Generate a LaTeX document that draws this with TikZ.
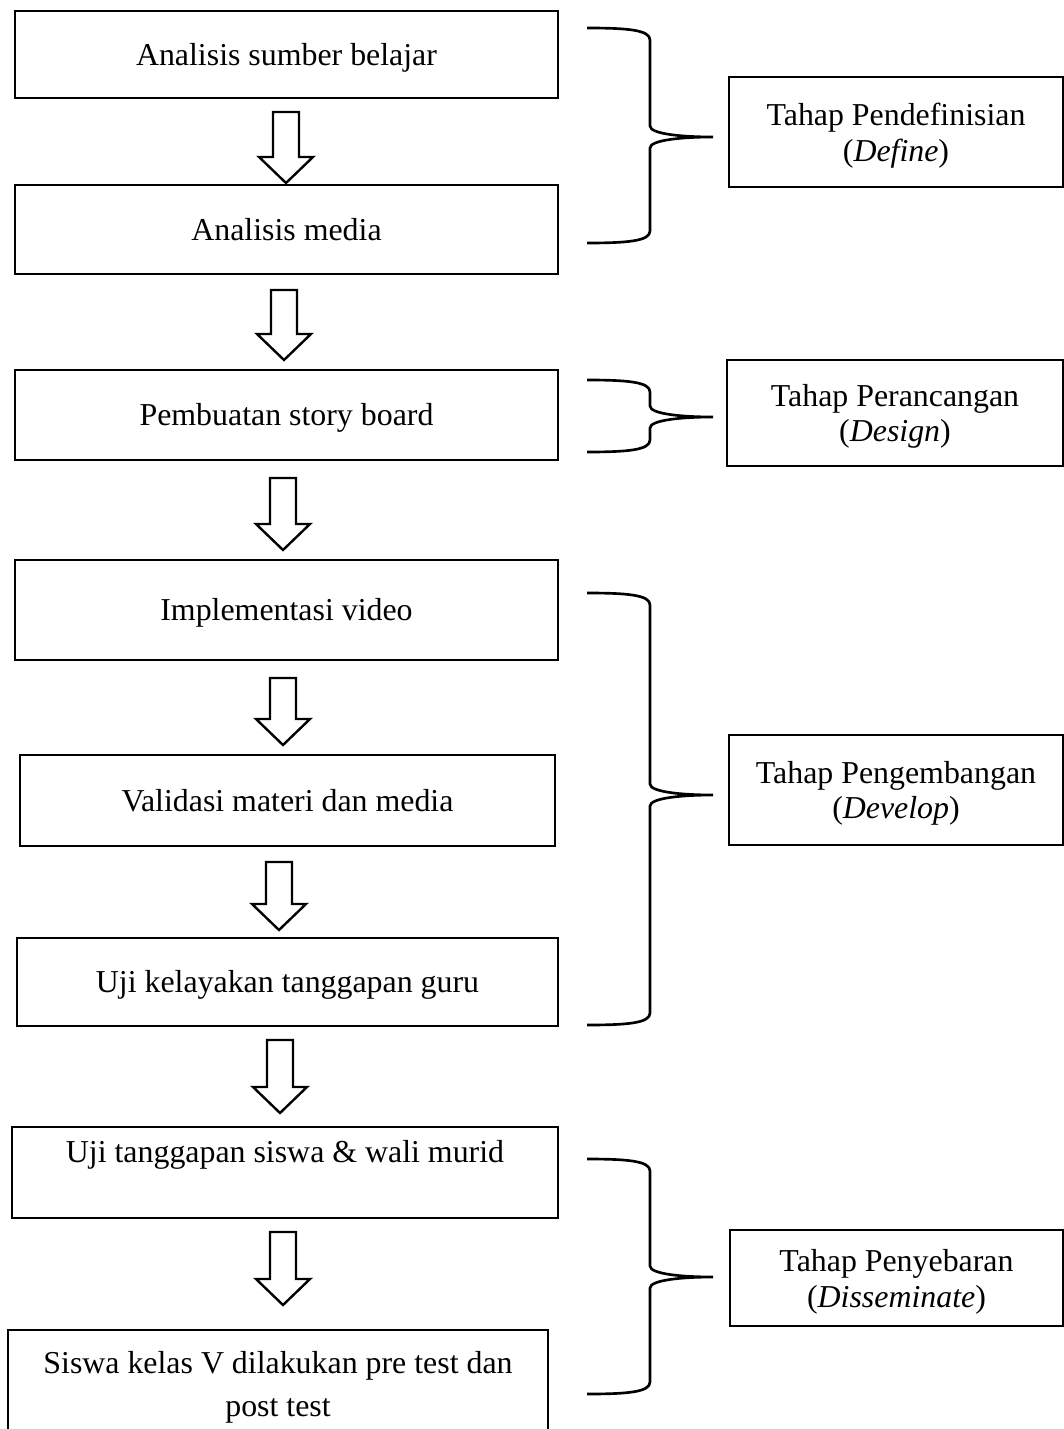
\documentclass[tikz,border=0pt]{standalone}
\usepackage{fontspec}
\setmainfont{Liberation Serif}
\usepackage{tikz}

\newcommand{\pxl}{0.3765pt}

\tikzset{
	stepbox/.style={draw, line width=1pt, minimum width=543*\pxl, inner sep=0pt,
		text height=8.3pt, text depth=0.3pt,
		font=\fontsize{12}{13.5}\selectfont, align=center},
	phasebox/.style={draw, line width=1pt, minimum width=334*\pxl, inner sep=0pt,
		text depth=0pt,
		font=\fontsize{12}{13.5}\selectfont, align=center},
	blockarrow/.style={draw, line width=0.9pt, fill=white, line join=miter},
	bracket/.style={draw, line width=1pt}
}

% brace: top, tip, bottom
\newcommand{\phasebrace}[3]{%
	\draw[bracket] (587,#1) .. controls (628,#1) and (650,#1+2) .. (650,#1+12)
		-- (650,#2-11) .. controls (650,#2-3) and (682,#2) .. (713,#2)
		.. controls (682,#2) and (650,#2+3) .. (650,#2+11)
		-- (650,#3-12) .. controls (650,#3-2) and (628,#3) .. (587,#3);
}

\begin{document}
\begin{tikzpicture}[x=0.3765pt, y=-0.3765pt]
		\useasboundingbox (0,0) rectangle (1064,1429);

		% langkah
		\node[stepbox, minimum height=87*\pxl] (sumber) at (286.5, 54.5) {Analisis sumber belajar};
		\node[stepbox, minimum height=89*\pxl] (media) at (286.5, 229.5) {Analisis media};
		\node[stepbox, minimum height=90*\pxl] (story) at (286.5, 415) {Pembuatan story board};
		\node[stepbox, minimum height=100*\pxl] (video) at (286.5, 610) {Implementasi video};
		\node[stepbox, minimum width=535*\pxl, minimum height=91*\pxl] (validasi) at (287.5, 800.5) {Validasi materi dan media};
		\node[stepbox, minimum width=541*\pxl, minimum height=88*\pxl] (guru) at (287.5, 982) {Uji kelayakan tanggapan guru};
		\node[stepbox, minimum width=546*\pxl, minimum height=91*\pxl, text depth=15.6pt] (siswa) at (285, 1172.5) {Uji tanggapan siswa \& wali murid};
		\node[stepbox, minimum width=540*\pxl, minimum height=115*\pxl, text height=, text depth=,
			font=\fontsize{12}{16}\selectfont] (tes) at (278, 1387.5) {Siswa kelas V dilakukan pre test dan\\post test};

		% tahap
		\node[phasebox, minimum height=110*\pxl] (define) at (896, 132) {Tahap Pendefinisian\\(\textit{Define})};
		\node[phasebox, minimum width=336*\pxl, minimum height=106*\pxl] (design) at (895, 413) {Tahap Perancangan\\(\textit{Design})};
		\node[phasebox, minimum height=110*\pxl] (develop) at (896, 790) {Tahap Pengembangan\\(\textit{Develop})};
		\node[phasebox, minimum width=333*\pxl, minimum height=96*\pxl] (disseminate) at (896.5, 1278) {Tahap Penyebaran\\(\textit{Disseminate})};

		% panah
		\foreach \x/\t/\b in {286/112/183, 284/290/360, 283/478/550, 283/678/745,
				279/862/930, 280/1040/1113, 283/1232/1305} {
			\draw[blockarrow] (\x-13,\t) -- (\x+13,\t) -- (\x+13,\b-26) -- (\x+27,\b-26)
				-- (\x,\b) -- (\x-27,\b-26) -- (\x-13,\b-26) -- cycle;
		}

		% kurung
		\phasebrace{28}{137}{243}
		\phasebrace{380}{417}{452}
		\phasebrace{593}{795}{1025}
		\phasebrace{1159}{1277}{1394}
	\end{tikzpicture}
\end{document}
